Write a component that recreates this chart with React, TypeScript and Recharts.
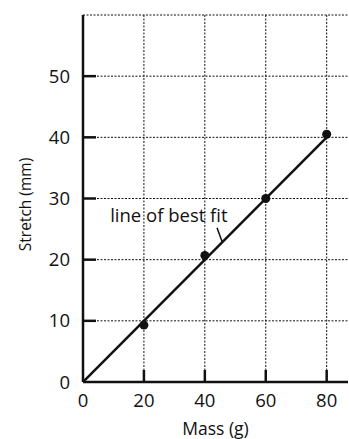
import React from "react";
import {
  ComposedChart,
  XAxis,
  YAxis,
  CartesianGrid,
  Line,
  Scatter,
  ReferenceLine,
  ReferenceDot,
} from "recharts";

const massValues = [20, 40, 60, 80];
const stretchValues = [9.3, 20.7, 30, 40.5];
const fitMass = [0, 80];
const fitStretch = [0, 40];
const xTicks = [0, 20, 40, 60, 80];
const yTicks = [0, 10, 20, 30, 40, 50];
const gridX = [20, 40, 60, 80];
const gridY = [10, 20, 30, 40, 50, 60];
const annotationText = "line of best fit";

const points = massValues.map((m, i) => ({ x: m, y: stretchValues[i] }));
const fitLine = fitMass.map((m, i) => ({ x: m, y: fitStretch[i] }));

const FONT = "'Open Sans', 'Noto Sans', sans-serif";
const INK = "#111";

const XTick = (props: any) => {
  const { x, y, payload } = props;
  return (
    <g>
      {payload.value !== 0 && (
        <line x1={x} y1={y} x2={x} y2={y - 12} stroke={INK} strokeWidth={2.5} />
      )}
      <text
        x={x}
        y={y + 25}
        textAnchor="middle"
        fontFamily={FONT}
        fontSize={18.5}
        fill={INK}
      >
        {payload.value}
      </text>
    </g>
  );
};

const YTick = (props: any) => {
  const { x, y, payload } = props;
  return (
    <g>
      {payload.value !== 0 && (
        <line x1={x} y1={y} x2={x + 13} y2={y} stroke={INK} strokeWidth={2.5} />
      )}
      <text
        x={x - 13}
        y={y + 6.5}
        textAnchor="end"
        fontFamily={FONT}
        fontSize={18.5}
        fill={INK}
      >
        {payload.value}
      </text>
    </g>
  );
};

export default function App() {
  return (
    <div style={{ position: "absolute", left: 0, top: 0, width: 349, height: 439, background: "#fff" }}>
      <ComposedChart
        width={349}
        height={439}
        margin={{ top: 15, right: 1, left: 0, bottom: 0 }}
      >
        <CartesianGrid
          stroke={INK}
          strokeWidth={1}
          strokeDasharray="2 1.5"
          verticalValues={gridX}
          horizontalValues={gridY}
        />
        <XAxis
          type="number"
          dataKey="x"
          domain={[0, 87]}
          ticks={xTicks}
          allowDataOverflow
          height={57}
          tickSize={0}
          tickMargin={0}
          tickLine={false}
          axisLine={{ stroke: INK, strokeWidth: 2.5 }}
          tick={<XTick />}
          label={{
            value: "Mass (g)",
            position: "insideBottom",
            offset: 4,
            fontFamily: FONT,
            fontSize: 17.5,
            fill: INK,
          }}
        />
        <YAxis
          type="number"
          dataKey="y"
          domain={[0, 60]}
          ticks={yTicks}
          allowDataOverflow
          width={83}
          tickSize={0}
          tickMargin={0}
          tickLine={false}
          axisLine={{ stroke: INK, strokeWidth: 2.5 }}
          tick={<YTick />}
          label={{
            value: "Stretch (mm)",
            angle: -90,
            position: "insideLeft",
            offset: 25,
            dy: 6,
            textAnchor: "middle",
            fontFamily: FONT,
            fontSize: 15.5,
            fill: INK,
          }}
        />
        <Line
          data={fitLine}
          dataKey="y"
          type="linear"
          stroke={INK}
          strokeWidth={2.5}
          dot={false}
          activeDot={false}
          isAnimationActive={false}
        />
        <Scatter
          data={points}
          dataKey="y"
          fill={INK}
          shape={(p: any) => <circle cx={p.cx} cy={p.cy} r={4.5} fill={INK} />}
          isAnimationActive={false}
        />
        <ReferenceLine
          segment={[
            { x: 44, y: 25.2 },
            { x: 45.7, y: 22.9 },
          ]}
          stroke={INK}
          strokeWidth={1.5}
        />
        <ReferenceDot
          x={28.2}
          y={27.3}
          r={0}
          fill="none"
          stroke="none"
          label={{
            value: annotationText,
            position: "center",
            fontFamily: FONT,
            fontSize: 18.5,
            fill: INK,
          }}
        />
      </ComposedChart>
    </div>
  );
}
